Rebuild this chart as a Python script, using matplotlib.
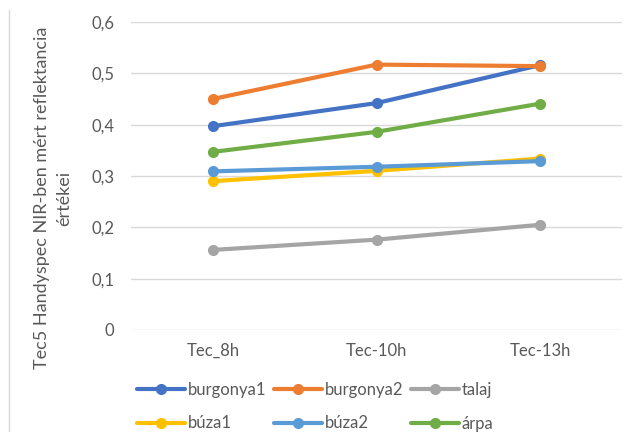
import matplotlib.pyplot as plt
from matplotlib.lines import Line2D

plt.rcParams['font.family'] = ['Lato', 'DejaVu Sans']

categories = ['Tec_8h', 'Tec-10h', 'Tec-13h']
burgonya1 = [0.397, 0.442, 0.516]
burgonya2 = [0.450, 0.517, 0.514]
talaj = [0.156, 0.176, 0.205]
buza1 = [0.290, 0.310, 0.334]
buza2 = [0.309, 0.318, 0.329]
arpa = [0.347, 0.386, 0.441]

series = [('burgonya1', burgonya1, '#4472C4'),
          ('burgonya2', burgonya2, '#ED7D31'),
          ('talaj', talaj, '#A5A5A5'),
          ('búza1', buza1, '#FFC000'),
          ('búza2', buza2, '#5B9BD5'),
          ('árpa', arpa, '#70AD47')]

fig = plt.figure(figsize=(6.3, 4.32), dpi=100)
ax = fig.add_axes([131/630, 1 - 330/432, 491/630, 308/432])

x = range(len(categories))
for name, vals, col in series:
    ax.plot(x, vals, color=col, lw=3, marker='o', ms=7, label=name,
            solid_capstyle='round')

ax.set_ylim(0, 0.6)
ax.set_xlim(-0.5, 2.5)
ax.set_yticks([0, 0.1, 0.2, 0.3, 0.4, 0.5, 0.6])
ax.set_yticklabels(['0', '0,1', '0,2', '0,3', '0,4', '0,5', '0,6'])
ax.set_xticks(list(x))
ax.set_xticklabels(categories)
ax.tick_params(length=0, labelsize=12, labelcolor='#595959', pad=9)
ax.tick_params(axis='y', pad=12)
ax.grid(axis='y', color='#D9D9D9', lw=1)
ax.set_axisbelow(True)
for s in ax.spines.values():
    s.set_visible(False)

fig.text(53/630, 1 - 198/432, 'Tec5 Handyspec NIR-ben mért reflektancia\nértékei',
         rotation=90, ha='center', va='center', ma='center',
         fontsize=13, color='#595959', linespacing=1.45)

# thin frame edge on the left
fig.add_artist(Line2D([9/630, 9/630], [0, 1 - 10/432], color='#D9D9D9', lw=1))

# legend reads row by row, so reorder for the column-major fill
handles, labels = ax.get_legend_handles_labels()
order = [0, 3, 1, 4, 2, 5]
fig.legend([handles[i] for i in order], [labels[i] for i in order],
           loc='upper left', bbox_to_anchor=(137/630, 1 - 382/432), ncol=3,
           frameon=False, fontsize=12, labelcolor='#595959', handlelength=2.9,
           handletextpad=0.15, columnspacing=0.45, labelspacing=1.05,
           borderpad=0, borderaxespad=0)

fig.savefig('out.png', dpi=100)
